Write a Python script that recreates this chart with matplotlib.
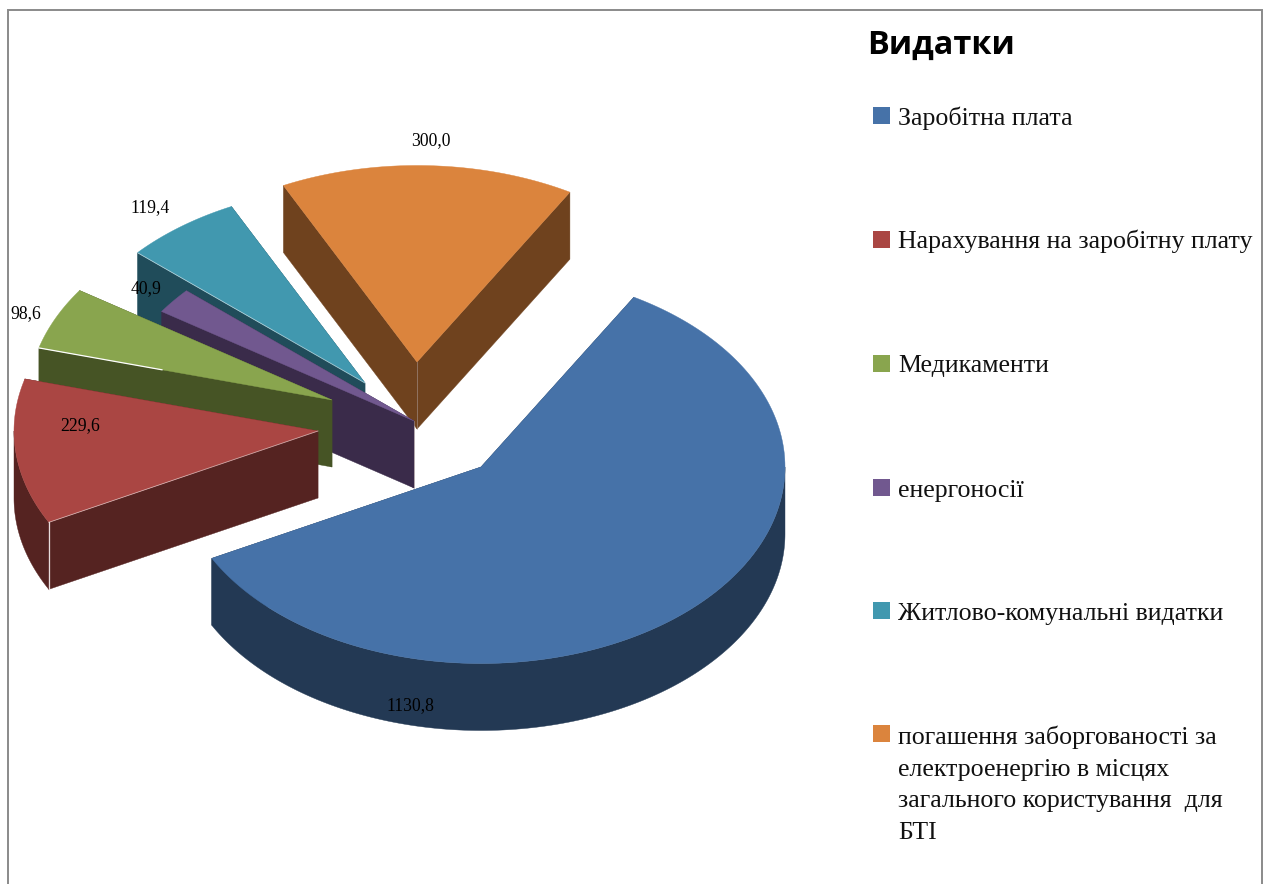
import numpy as np
import matplotlib
matplotlib.use("Agg")
import matplotlib.pyplot as plt
from matplotlib.patches import Polygon, Rectangle

# ---- data ----
categories = [
    "Заробітна плата",
    "Нарахування на заробітну плату",
    "Медикаменти",
    "енергоносії",
    "Житлово-комунальні видатки",
    "погашення заборгованості за\nелектроенергію в місцях\nзагального користування  для\nБТІ",
]
values = [1130.8, 229.6, 98.6, 40.9, 119.4, 300.0]
title = "Видатки"

# ---- style / layout ----
top_colors = ["#4672A8", "#AA4643", "#89A54E", "#71588F", "#4198AF", "#DB843D"]
side_colors = ["#233954", "#552321", "#465425", "#3A2B4A", "#204C5A", "#6F421E"]
apexes = [(481, 467), (318, 431), (332, 400), (414, 421), (365, 383), (417, 362)]
label_pos = [(410, 706), (80, 426), (26, 314), (146, 289), (150, 208), (431, 141)]
legend_y = [116, 240, 364, 488, 611, 734]
legend_base = [125, 248, 372, 497, 620, 744]
RX, RY, DEPTH, START = 304.0, 196.5, 67.0, 30.2
SERIF = "Liberation Serif"

fig = plt.figure(figsize=(12.68, 8.84), dpi=100, facecolor="white")
ax = fig.add_axes([0, 0, 1, 1])
ax.set_xlim(0, 1268)
ax.set_ylim(884, 0)
ax.axis("off")


def rim(apex, a):
    """Rim point for angles measured clockwise from the top, in degrees."""
    r = np.radians(a)
    return np.column_stack([apex[0] + RX * np.sin(r), apex[1] - RY * np.cos(r)])


total = sum(values)
edges = START + np.concatenate([[0], np.cumsum(values)]) / total * 360.0
down = np.array([0, DEPTH])

# back-to-front painter's order
for i in [5, 4, 3, 2, 1, 0]:
    a0, a1 = edges[i], edges[i + 1]
    apex = np.array(apexes[i], float)
    arc = rim(apex, np.linspace(a0, a1, 200))
    lo, hi = max(a0, 90.0), min(a1, 270.0)
    if hi > lo:
        front = rim(apex, np.linspace(lo, hi, 200))
        ax.add_patch(Polygon(np.vstack([front, (front + down)[::-1]]),
                             closed=True, fc=side_colors[i], ec=side_colors[i], lw=0.3))
    for p in (arc[0], arc[-1]):
        quad = [apex, p, p + down, apex + down]
        ax.add_patch(Polygon(quad, closed=True, fc=side_colors[i], ec=side_colors[i], lw=0.3))
    ax.add_patch(Polygon(np.vstack([apex, arc]), closed=True,
                         fc=top_colors[i], ec=top_colors[i], lw=0.3))
    # thin pale highlights along the bright edges
    if i in (1, 4):
        ax.plot([arc[0, 0], apex[0]], [arc[0, 1], apex[1]], color="white", lw=0.6, alpha=0.55)
    if i == 2:
        m = arc[0] + 0.42 * (apex - arc[0])
        ax.plot([arc[0, 0], m[0]], [arc[0, 1], m[1]], color="white", lw=0.9)
    if i == 1:
        ax.plot([arc[0, 0]] * 2, [arc[0, 1], arc[0, 1] + DEPTH], color="#E8DCDC", lw=0.9)
    if i in (3, 5):
        ax.plot([apex[0]] * 2, [apex[1], apex[1] + DEPTH], color="#B0A0A0", lw=0.6, alpha=0.6)

# data labels
for v, (x, y) in zip(values, label_pos):
    ax.text(x, y, f"{v:.1f}".replace(".", ","), family=SERIF, fontsize=12.7,
            color="black", ha="center", va="center")

# title
ax.text(867, 54, title, family="Open Sans", weight="bold", fontsize=23.4,
        color="black", ha="left", va="baseline")

# legend
for name, c, ys, yb in zip(categories, top_colors, legend_y, legend_base):
    ax.add_patch(Rectangle((873, ys - 9), 17, 17, fc=c, ec="none"))
    for k, line in enumerate(name.split("\n")):
        ax.text(898, yb + 31.6 * k, line, family=SERIF, fontsize=18.6,
                color="#111111", ha="left", va="baseline")

# chart-area frame running off the bottom of the image
ax.plot([7.5, 7.5, 1261.5, 1261.5], [884, 10, 10, 884], color="#8A8A8A", lw=1.4,
        solid_joinstyle="miter")

fig.savefig("out.png", dpi=100, facecolor="white")
